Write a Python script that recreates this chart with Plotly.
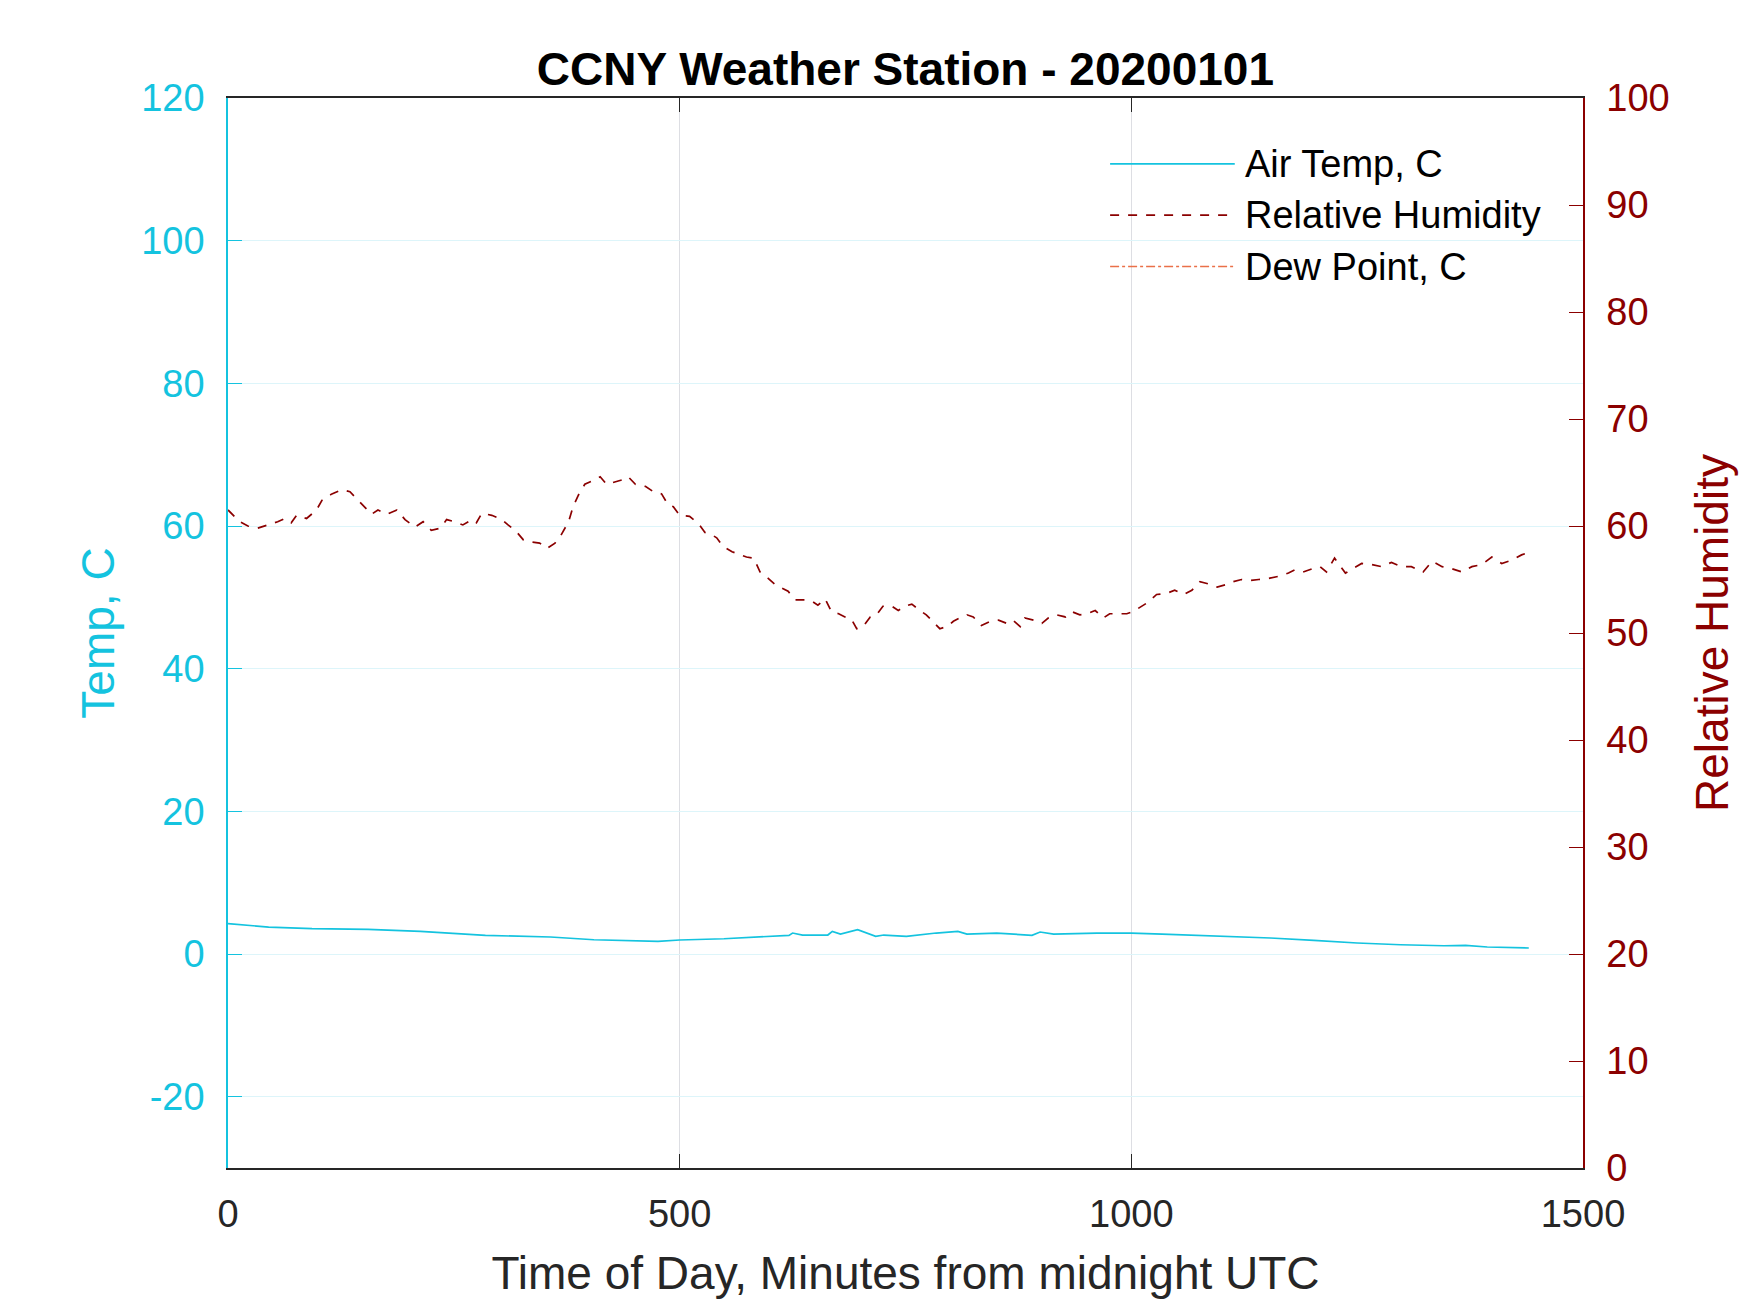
import plotly.graph_objects as go

# minutes from midnight UTC
rh_minutes = [
    0, 13, 22, 33, 44, 55, 63, 70, 76, 87, 98, 104, 115, 126, 135, 144, 152, 159,
    166, 176, 187, 196, 207, 216, 225, 235, 242, 251, 260, 270, 275, 281, 292, 303,
    310, 318, 327, 336, 345, 353, 362, 369, 377, 382, 388, 395, 403, 412, 419, 427,
    436, 443, 451, 462, 471, 480, 487, 493, 500, 511, 521, 528, 535, 541, 548, 558,
    567, 574, 582, 589, 598, 606, 613, 620, 628, 637, 646, 653, 661, 668, 676, 683,
    690, 696, 703, 711, 718, 725, 735, 742, 749, 757, 766, 773, 781, 788, 796, 803,
    810, 818, 825, 834, 844, 853, 862, 869, 877, 882, 892, 901, 908, 917, 927, 934,
    943, 951, 960, 969, 976, 986, 995, 1002, 1008, 1019, 1028, 1039, 1048, 1058,
    1067, 1076, 1085, 1095, 1104, 1113, 1122, 1131, 1141, 1152, 1163, 1174, 1181,
    1190, 1200, 1209, 1216, 1225, 1237, 1248, 1255, 1266, 1277, 1288, 1299, 1310,
    1323, 1333, 1344, 1355, 1366, 1377, 1388, 1399, 1410, 1421, 1432, 1439,
]
rh_values = [
    61.5, 60.4, 60.0, 59.8, 60.1, 60.4, 60.7, 60.3, 61.0, 60.7, 61.5, 62.4, 63.0, 63.4,
    63.2, 62.4, 61.7, 61.1, 61.5, 61.1, 61.5, 60.6, 59.9, 60.4, 59.6, 59.8, 60.6, 60.4,
    60.1, 60.6, 60.3, 61.2, 61.0, 60.6, 60.1, 59.6, 58.7, 58.5, 58.4, 57.9, 58.4, 59.2,
    60.4, 61.8, 62.9, 63.9, 64.2, 64.6, 63.9, 64.1, 64.3, 64.6, 63.9, 63.7, 63.2, 63.0,
    62.0, 61.8, 61.0, 60.9, 60.2, 59.4, 59.2, 58.9, 58.1, 57.6, 57.3, 57.1, 57.0, 55.7,
    55.1, 54.5, 54.2, 53.9, 53.1, 53.1, 53.0, 52.6, 53.2, 52.0, 51.8, 51.5, 51.3, 50.4,
    50.6, 51.5, 51.7, 52.5, 52.5, 52.1, 52.5, 52.7, 52.1, 51.7, 51.0, 50.4, 50.6, 51.1,
    51.4, 51.7, 51.5, 50.7, 51.1, 51.2, 50.9, 51.2, 50.6, 51.4, 51.2, 50.9, 51.4, 51.7,
    51.5, 52.0, 51.7, 51.8, 52.1, 51.4, 51.8, 51.8, 51.8, 52.0, 52.3, 52.9, 53.6, 53.7,
    54.0, 53.6, 54.0, 54.8, 54.6, 54.3, 54.5, 54.8, 55.0, 54.9, 55.0, 55.1, 55.3, 55.6,
    55.9, 55.7, 56.0, 56.2, 55.7, 57.0, 55.6, 56.2, 56.5, 56.4, 56.2, 56.6, 56.2, 56.2,
    55.7, 56.7, 56.2, 56.0, 55.7, 56.2, 56.4, 57.1, 56.5, 56.8, 57.3, 57.5,
]

temp_minutes = [
    0, 45, 93, 155, 213, 285, 357, 405, 476, 500, 549, 621, 625, 636, 664, 669, 678,
    697, 717, 726, 751, 784, 808, 818, 851, 890, 899, 914, 962, 1000, 1034, 1106,
    1154, 1202, 1250, 1298, 1346, 1370, 1394, 1440,
]
temp_values = [
    4.25, 3.78, 3.55, 3.45, 3.17, 2.61, 2.38, 2.00, 1.77, 1.96, 2.14, 2.61, 2.94, 2.66,
    2.66, 3.17, 2.78, 3.40, 2.47, 2.66, 2.47, 2.94, 3.17, 2.78, 2.94, 2.61, 3.08, 2.78,
    2.94, 2.94, 2.80, 2.47, 2.24, 1.91, 1.54, 1.30, 1.16, 1.21, 0.98, 0.84,
]

# dew point sits on the humidity axis and falls below its 0 floor, so it never shows
dew_minutes = [0, 240, 480, 720, 960, 1200, 1440]
dew_values = [-2.7, -3.6, -4.5, -6.4, -6.3, -6.0, -6.9]

x_ticks = [0, 500, 1000, 1500]
temp_ticks = [-20, 0, 20, 40, 60, 80, 100, 120]
rh_ticks = [0, 10, 20, 30, 40, 50, 60, 70, 80, 90, 100]

CYAN = "#14C3DF"
DARKRED = "#8B0000"
ORANGE = "#EA7049"
FONT = "Liberation Sans, Arial, sans-serif"

fig = go.Figure()
fig.add_trace(go.Scatter(
    x=temp_minutes, y=temp_values, mode="lines", name="Air Temp, C",
    line=dict(color=CYAN, width=1.7), showlegend=False,
))
fig.add_trace(go.Scatter(
    x=rh_minutes, y=rh_values, mode="lines", name="Relative Humidity", yaxis="y2",
    line=dict(color=DARKRED, width=1.7, dash="dash"), showlegend=False,
))
fig.add_trace(go.Scatter(
    x=dew_minutes, y=dew_values, mode="lines", name="Dew Point, C", yaxis="y2",
    line=dict(color=ORANGE, width=1.4, dash="dashdot"), showlegend=False,
))

# hand-drawn legend, matlab style: long sample lines, no box
legend_rows = [
    ("Air Temp, C", CYAN, "solid", 1.8),
    ("Relative Humidity", DARKRED, "dash", 1.8),
    ("Dew Point, C", ORANGE, "dashdot", 1.4),
]
row_y = [0.9385, 0.8905, 0.8425]
for (label, color, dash, width), yy in zip(legend_rows, row_y):
    fig.add_shape(type="line", xref="paper", yref="paper", x0=0.651, x1=0.743,
                  y0=yy, y1=yy, line=dict(color=color, dash=dash, width=width))
    fig.add_annotation(x=0.749, y=yy, xref="paper", yref="paper", text=label,
                       showarrow=False, xanchor="left", yanchor="middle",
                       font=dict(family=FONT, size=38, color="black"))

fig.update_layout(
    width=1750,
    height=1313,
    margin=dict(l=228, r=167, t=98, b=145, pad=0),
    paper_bgcolor="white",
    plot_bgcolor="white",
    font=dict(family=FONT, size=38, color="#262626"),
    title=dict(
        text="<b>CCNY Weather Station - 20200101</b>",
        x=0.5174, xanchor="center", y=1 - 69 / 1313, yanchor="middle",
        xref="container", yref="container",
        font=dict(family=FONT, size=46, color="black"),
    ),
    xaxis=dict(
        range=[0, 1500],
        tickvals=x_ticks,
        ticktext=[str(v) for v in x_ticks],
        ticks="inside", ticklen=14, tickwidth=1.3, tickcolor="#262626",
        showline=True, linecolor="#262626", linewidth=1.5, mirror="ticks",
        showgrid=True, gridcolor="#DDDEE3", gridwidth=1.2,
        zeroline=False,
        tickfont=dict(size=38, color="#262626"),
        ticklabelstandoff=12,
        title=dict(text="Time of Day, Minutes from midnight UTC",
                   font=dict(size=46, color="#262626"), standoff=22),
    ),
    yaxis=dict(
        range=[-30, 120],
        tickvals=temp_ticks,
        ticktext=[str(v) for v in temp_ticks],
        ticks="inside", ticklen=14, tickwidth=1.3, tickcolor=CYAN,
        showline=True, linecolor=CYAN, linewidth=1.5,
        showgrid=True, gridcolor="#DDF5FA", gridwidth=1.2,
        zeroline=False,
        tickfont=dict(size=38, color=CYAN),
        ticklabelstandoff=14,
        title=dict(text="Temp, C", font=dict(size=46, color=CYAN), standoff=12),
    ),
    yaxis2=dict(
        range=[0, 100],
        tickvals=rh_ticks,
        ticktext=[str(v) for v in rh_ticks],
        overlaying="y", side="right",
        ticks="inside", ticklen=14, tickwidth=1.3, tickcolor=DARKRED,
        showline=True, linecolor=DARKRED, linewidth=1.5,
        showgrid=False, zeroline=False,
        tickfont=dict(size=38, color=DARKRED),
        ticklabelstandoff=14,
        title=dict(text="Relative Humidity", font=dict(size=46, color=DARKRED), standoff=27),
    ),
)

fig.write_html("out.html", config={"displayModeBar": False},
               post_script="document.body.style.margin='0';")
